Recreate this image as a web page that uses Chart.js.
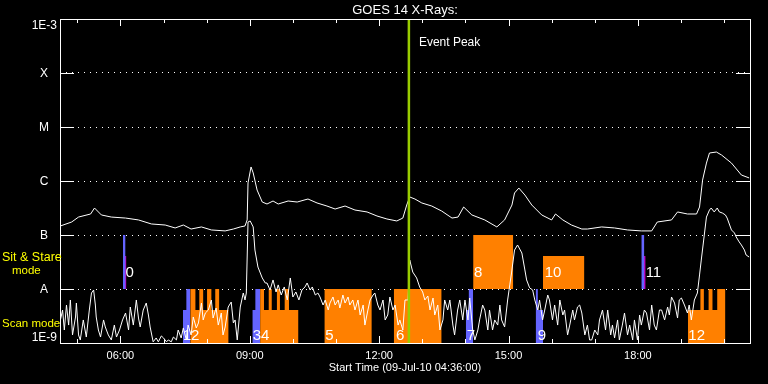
<!DOCTYPE html>
<html>
<head>
<meta charset="utf-8">
<script src="https://cdn.jsdelivr.net/npm/chart.js@4.4.1/dist/chart.umd.min.js"></script>
<style>
  html, body { margin: 0; padding: 0; background: #000; }
  canvas { display: block; }
</style>
</head>
<body>
<canvas id="goesChart" width="768" height="384"></canvas>
<script>
// time in decimal hours of 09-Jul-2010, plot starts at 04:36
const startHour = 4.6;
const endHour = 20.6;
const hourTicks = [6, 9, 12, 15, 18];
const decades = [1e-9, 1e-8, 1e-7, 1e-6, 1e-5, 1e-4, 1e-3];
const decadeLabels = ['1E-9', 'A', 'B', 'C', 'M', 'X', '1E-3'];

// GOES 14 long channel (1-8 A), [hour, W/m^2]
const longChannel = [
  [4.61,1.47e-7],[4.87,1.74e-7],[5.03,2.15e-7],[5.31,2.45e-7],[5.40,3.16e-7],[5.56,2.35e-7],
  [5.79,2.15e-7],[6.12,2.06e-7],[6.42,1.90e-7],[6.72,1.60e-7],[7.04,1.53e-7],[7.27,1.35e-7],
  [7.46,1.53e-7],[7.64,1.29e-7],[7.88,1.41e-7],[8.11,1.24e-7],[8.43,1.19e-7],[8.62,1.29e-7],
  [8.78,1.41e-7],[8.89,1.47e-7],[8.94,1.90e-7],[8.96,9.2e-7],[9.03,1.82e-6],[9.08,1.41e-6],
  [9.17,6.8e-7],[9.29,4.08e-7],[9.40,3.75e-7],[9.54,4.26e-7],[9.66,3.75e-7],[9.89,4.26e-7],
  [10.10,4.08e-7],[10.35,4.64e-7],[10.56,3.92e-7],[10.79,3.44e-7],[10.98,3.03e-7],[11.21,3.44e-7],
  [11.44,2.90e-7],[11.72,2.67e-7],[11.95,2.25e-7],[12.18,1.98e-7],[12.41,1.82e-7],[12.55,2.06e-7],
  [12.64,3.59e-7],[12.71,5.06e-7],[12.83,4.64e-7],[12.99,3.92e-7],[13.22,3.44e-7],[13.45,2.78e-7],
  [13.69,2.06e-7],[13.83,2.15e-7],[13.96,3.30e-7],[14.15,2.35e-7],[14.45,1.90e-7],[14.73,1.41e-7],
  [14.91,1.90e-7],[15.08,3.59e-7],[15.14,6.0e-7],[15.24,7.4e-7],[15.38,5.5e-7],[15.54,3.59e-7],
  [15.77,2.35e-7],[16.00,1.90e-7],[16.09,2.45e-7],[16.26,1.90e-7],[16.46,1.53e-7],[16.70,1.29e-7],
  [16.83,1.29e-7],[17.16,1.41e-7],[17.46,1.35e-7],[17.76,1.24e-7],[18.08,1.19e-7],[18.32,1.19e-7],
  [18.45,1.74e-7],[18.78,1.90e-7],[18.92,2.67e-7],[19.15,2.45e-7],[19.36,2.45e-7],[19.43,3.30e-7],
  [19.50,1.04e-6],[19.59,2.15e-6],[19.66,3.30e-6],[19.82,3.44e-6],[19.94,3.03e-6],[20.17,2.15e-6],
  [20.40,1.29e-6],[20.58,1.14e-6]
];

// GOES 14 short channel (0.5-4 A)
const shortChannel = [
  [4.61,2.67e-9],[4.66,4.08e-9],[4.70,1.74e-9],[4.75,5.05e-9],[4.80,2.15e-9],[4.84,6.26e-9],
  [4.89,1.41e-9],[4.96,3.03e-9],[4.98,5.50e-9],[5.03,1.41e-9],[5.07,1.14e-9],[5.14,2.67e-9],
  [5.21,1.29e-9],[5.28,4.08e-9],[5.33,8.43e-9],[5.38,9.58e-9],[5.42,5.05e-9],[5.44,3.03e-9],
  [5.49,1.74e-9],[5.54,1.29e-9],[5.61,2.67e-9],[5.65,1.98e-9],[5.72,1.41e-9],[5.79,1.14e-9],
  [5.86,2.15e-9],[5.91,1.29e-9],[5.98,1.74e-9],[6.05,2.67e-9],[6.12,3.59e-9],[6.19,1.74e-9],
  [6.23,4.64e-9],[6.30,2.15e-9],[6.37,6.26e-9],[6.42,2.90e-9],[6.46,1.98e-9],[6.53,4.08e-9],
  [6.60,5.50e-9],[6.65,3.30e-9],[6.69,1.98e-9],[6.76,1.05e-9],[6.83,1.24e-9],[6.88,1.05e-9],
  [6.95,1.35e-9],[7.00,1.24e-9],[7.07,1.05e-9],[7.11,1.14e-9],[7.18,1.05e-9],[7.23,1.29e-9],
  [7.30,1.14e-9],[7.34,1.74e-9],[7.41,1.24e-9],[7.46,1.90e-9],[7.53,1.14e-9],[7.57,2.15e-9],
  [7.64,1.41e-9],[7.69,3.03e-9],[7.76,1.90e-9],[7.81,2.35e-9],[7.88,5.50e-9],[7.92,2.67e-9],
  [7.97,3.59e-9],[8.04,4.08e-9],[8.11,6.26e-9],[8.15,2.90e-9],[8.22,4.45e-9],[8.27,2.15e-9],
  [8.34,3.59e-9],[8.38,1.41e-9],[8.43,1.98e-9],[8.50,4.64e-9],[8.57,5.74e-9],[8.62,2.35e-9],
  [8.66,2.67e-9],[8.71,1.14e-9],[8.78,4.64e-9],[8.85,8.43e-9],[8.89,6.26e-9],[8.92,8.43e-9],
  [8.96,1.74e-7],[9.01,1.82e-7],[9.08,1.41e-7],[9.12,5.27e-8],[9.19,2.55e-8],[9.29,1.60e-8],
  [9.36,1.29e-8],[9.40,1.29e-8],[9.47,9.58e-9],[9.54,1.47e-8],[9.61,8.80e-9],[9.66,1.19e-8],
  [9.73,7.74e-9],[9.80,1.09e-8],[9.87,6.26e-9],[9.94,1.60e-8],[10.00,7.11e-9],[10.07,8.80e-9],
  [10.14,6.26e-9],[10.21,9.58e-9],[10.28,1.09e-8],[10.33,1.29e-8],[10.40,9.58e-9],[10.45,1.09e-8],
  [10.52,7.74e-9],[10.58,8.43e-9],[10.63,7.11e-9],[10.70,5.05e-9],[10.75,6.26e-9],[10.82,4.08e-9],
  [10.86,5.50e-9],[10.93,7.11e-9],[10.98,5.05e-9],[11.05,6.26e-9],[11.09,4.45e-9],[11.16,7.74e-9],
  [11.21,5.50e-9],[11.28,7.11e-9],[11.32,5.05e-9],[11.39,6.26e-9],[11.44,4.08e-9],[11.51,6.26e-9],
  [11.56,3.30e-9],[11.63,5.05e-9],[11.67,2.15e-9],[11.74,4.08e-9],[11.79,6.26e-9],[11.86,7.74e-9],
  [11.90,8.43e-9],[11.97,5.05e-9],[12.02,4.08e-9],[12.09,6.26e-9],[12.14,2.67e-9],[12.20,3.30e-9],
  [12.25,7.11e-9],[12.32,4.08e-9],[12.37,5.05e-9],[12.44,2.15e-9],[12.48,2.67e-9],[12.55,1.74e-9],
  [12.60,6.26e-9],[12.67,6.26e-9],[12.71,3.44e-8],[12.78,2.06e-8],[12.87,1.60e-8],[12.94,1.09e-8],
  [13.01,8.80e-9],[13.06,6.26e-9],[13.13,7.42e-9],[13.18,4.08e-9],[13.25,6.81e-9],[13.29,3.30e-9],
  [13.36,5.05e-9],[13.41,1.74e-9],[13.48,2.67e-9],[13.52,6.26e-9],[13.59,4.08e-9],[13.64,6.26e-9],
  [13.71,2.15e-9],[13.75,1.41e-9],[13.82,4.08e-9],[13.87,6.26e-9],[13.94,2.67e-9],[13.99,6.26e-9],
  [14.06,2.67e-9],[14.10,6.81e-9],[14.17,1.74e-9],[14.22,1.14e-9],[14.29,1.74e-9],[14.33,2.67e-9],
  [14.40,5.05e-9],[14.45,4.08e-9],[14.52,1.74e-9],[14.56,4.08e-9],[14.63,1.74e-9],[14.68,2.67e-9],
  [14.75,2.15e-9],[14.80,5.05e-9],[14.84,2.67e-9],[14.91,1.98e-9],[14.98,6.26e-9],[15.03,1.19e-8],
  [15.07,1.98e-8],[15.14,5.27e-8],[15.21,6.53e-8],[15.31,4.64e-8],[15.38,2.25e-8],[15.42,1.47e-8],
  [15.49,1.05e-8],[15.56,9.58e-9],[15.61,6.26e-9],[15.68,4.08e-9],[15.72,6.26e-9],[15.79,2.67e-9],
  [15.84,4.08e-9],[15.91,7.74e-9],[15.95,6.26e-9],[16.02,2.67e-9],[16.07,5.05e-9],[16.14,2.15e-9],
  [16.19,6.26e-9],[16.26,3.30e-9],[16.30,4.08e-9],[16.37,1.41e-9],[16.42,2.15e-9],[16.49,4.08e-9],
  [16.53,2.67e-9],[16.60,4.64e-9],[16.65,5.05e-9],[16.70,3.59e-9],[16.77,1.41e-9],[16.83,2.15e-9],
  [16.88,1.14e-9],[16.93,1.14e-9],[17.00,1.74e-9],[17.07,1.41e-9],[17.11,2.67e-9],[17.18,4.08e-9],
  [17.25,1.74e-9],[17.30,4.08e-9],[17.37,1.41e-9],[17.41,2.15e-9],[17.46,1.24e-9],[17.53,2.67e-9],
  [17.57,1.14e-9],[17.64,2.15e-9],[17.69,3.59e-9],[17.76,1.41e-9],[17.81,2.15e-9],[17.88,1.14e-9],
  [17.92,2.67e-9],[17.99,1.14e-9],[18.04,3.30e-9],[18.08,2.15e-9],[18.15,4.08e-9],[18.20,3.59e-9],
  [18.27,1.74e-9],[18.32,5.05e-9],[18.38,2.15e-9],[18.43,1.74e-9],[18.50,4.08e-9],[18.55,4.08e-9],
  [18.62,2.67e-9],[18.69,4.64e-9],[18.73,3.30e-9],[18.78,7.11e-9],[18.85,5.50e-9],[18.92,2.90e-9],
  [18.96,6.26e-9],[19.01,6.81e-9],[19.08,5.05e-9],[19.15,3.59e-9],[19.19,5.05e-9],[19.24,2.67e-9],
  [19.31,6.26e-9],[19.38,8.43e-9],[19.43,1.82e-8],[19.47,3.44e-8],[19.54,1.00e-7],[19.59,2.15e-7],
  [19.66,2.90e-7],[19.70,3.16e-7],[19.77,2.67e-7],[19.84,3.16e-7],[19.89,2.67e-7],[19.96,2.55e-7],
  [20.03,2.35e-7],[20.07,2.06e-7],[20.17,1.24e-7],[20.24,1.09e-7],[20.28,9.18e-8],[20.35,7.42e-8],
  [20.40,6.53e-8],[20.47,5.27e-8],[20.51,4.26e-8],[20.58,3.91e-8]
];

const eventPeak = 12.69;

// observation blocks: step outlines (start hour of each step, level), last point closes the block
// scan mode blocks are filled down to 1E-9, sit & stare blocks down to A (1E-8)
const scanBlueTimes = [
  [7.45, 7.53, 7.57, 7.62],
  [9.06, 9.13, 9.18, 9.24],
  [14.01, 14.08, 14.11, 14.18],
  [15.63, 15.68, 15.74, 15.80]
];
const scanBlueLevels = [
  [1e-8, 4.1e-9, 1e-8, 1e-8],
  [1e-8, 4.1e-9, 1e-8, 1e-8],
  [1e-8, 4.1e-9, 1e-8, 1e-8],
  [4.1e-9, 1e-8, 4.1e-9, 4.1e-9]
];
const scanOrangeTimes = [
  [7.62, 7.74, 7.83, 7.92, 8.01, 8.11, 8.20, 8.29, 8.39, 8.51],
  [9.24, 9.33, 9.44, 9.51, 9.63, 9.70, 9.81, 9.91, 10.01, 10.13],
  [10.73, 11.83],
  [12.34, 13.45],
  [19.16, 19.45, 19.53, 19.64, 19.73, 19.84, 19.93, 20.03]
];
const scanOrangeLevels = [
  [4.1e-9, 1e-8, 4.1e-9, 1e-8, 4.1e-9, 1e-8, 4.1e-9, 1e-8, 4.1e-9, 4.1e-9],
  [4.1e-9, 1e-8, 4.1e-9, 1e-8, 4.1e-9, 1e-8, 4.1e-9, 1e-8, 4.1e-9, 4.1e-9],
  [1e-8, 1e-8],
  [1e-8, 1e-8],
  [1e-8, 4.1e-9, 1e-8, 4.1e-9, 1e-8, 4.1e-9, 1e-8, 1e-8]
];
const stareOrangeTimes = [[14.18, 15.11], [15.80, 16.76]];
const stareOrangeLevels = [[1e-7, 1e-7], [4.1e-8, 4.1e-8]];
const stareBlueTimes = [[6.06, 6.12], [18.08, 18.15]];
const stareBlueLevels = [[1e-7, 1e-7], [1e-7, 1e-7]];
const starePurpleTimes = [[6.08, 6.14], [18.13, 18.18]];
const starePurpleLevels = [[4.1e-8, 4.1e-8], [4.1e-8, 4.1e-8]];

// block numbers
const eventNames = ['0', '1', '2', '3', '4', '5', '6', '7', '8', '9', '10', '11', '12'];
const eventLabelTimes = [6.12, 7.45, 7.64, 9.07, 9.26, 10.75, 12.39, 14.03, 14.20, 15.68, 15.84, 18.18, 19.17];
const eventLabelFlux = [1.67e-8, 1.14e-9, 1.14e-9, 1.14e-9, 1.14e-9, 1.14e-9, 1.14e-9, 1.14e-9,
                        1.67e-8, 1.14e-9, 1.67e-8, 1.67e-8, 1.14e-9];

const ORANGE = '#ff8000';
const BLUE = '#6464ff';
const PURPLE = '#c000c0';
const FONT = 'Liberation Sans';

function blockSet(times, levels, color, base) {
  return times.map((t, i) => ({
    data: t.map((h, j) => ({x: h, y: levels[i][j]})),
    stepped: 'after',
    fill: base === null ? 'start' : {value: base},
    backgroundColor: color,
    borderColor: 'rgba(0,0,0,0)',
    borderWidth: 0,
    pointRadius: 0,
    order: 2
  }));
}

const curve = (pts) => ({
  data: pts.map(p => ({x: p[0], y: p[1]})),
  borderColor: '#ffffff',
  borderWidth: 1,
  pointRadius: 0,
  tension: 0,
  fill: false,
  order: 0
});

const datasets = [
  curve(longChannel),
  curve(shortChannel),
  {
    data: [{x: eventPeak, y: 1e-9}, {x: eventPeak, y: 1e-3}],
    borderColor: '#99cc00',
    borderWidth: 2.5,
    pointRadius: 0,
    fill: false,
    order: -1
  },
  ...blockSet(scanBlueTimes, scanBlueLevels, BLUE, null),
  ...blockSet(scanOrangeTimes, scanOrangeLevels, ORANGE, null),
  ...blockSet(stareOrangeTimes, stareOrangeLevels, ORANGE, 1e-8),
  ...blockSet(stareBlueTimes, stareBlueLevels, BLUE, 1e-8),
  ...blockSet(starePurpleTimes, starePurpleLevels, PURPLE, 1e-8)
];

let numbersDrawn = false;

const goesDecor = {
  id: 'goesDecor',
  beforeDatasetsDraw() { numbersDrawn = false; },
  beforeDatasetDraw(chart, args) {
    // block numbers go above the blocks but under the flux curves
    if (numbersDrawn || chart.data.datasets[args.index].order !== 0) return;
    numbersDrawn = true;
    const {ctx, scales: {x, y}} = chart;
    ctx.save();
    ctx.fillStyle = '#fff';
    ctx.font = '15px "' + FONT + '"';
    ctx.textAlign = 'left';
    ctx.textBaseline = 'alphabetic';
    eventNames.forEach((n, i) => {
      ctx.fillText(n, x.getPixelForValue(eventLabelTimes[i]), y.getPixelForValue(eventLabelFlux[i]));
    });
    ctx.restore();
  },
  afterDraw(chart) {
    const {ctx, chartArea: a, scales: {x, y}} = chart;
    ctx.save();
    ctx.strokeStyle = '#fff';
    ctx.lineWidth = 1;
    ctx.strokeRect(a.left + 0.5, a.top + 0.5, a.right - a.left, a.bottom - a.top);
    ctx.beginPath();
    decades.slice(1, -1).forEach(v => {
      const py = Math.round(y.getPixelForValue(v)) + 0.5;
      ctx.moveTo(a.left, py); ctx.lineTo(a.left + 14, py);
      ctx.moveTo(a.right - 14, py); ctx.lineTo(a.right, py);
    });
    for (let h = Math.ceil(startHour); h <= endHour; h++) {
      const px = Math.round(x.getPixelForValue(h)) + 0.5;
      const len = hourTicks.includes(h) ? 7 : 4;
      ctx.moveTo(px, a.top); ctx.lineTo(px, a.top + len);
      ctx.moveTo(px, a.bottom); ctx.lineTo(px, a.bottom - len);
    }
    ctx.stroke();

    // y labels
    ctx.fillStyle = '#fff';
    ctx.font = '12px "' + FONT + '"';
    decades.forEach((v, i) => {
      const py = y.getPixelForValue(v);
      if (i === 0) {
        ctx.textAlign = 'right'; ctx.textBaseline = 'bottom';
        ctx.fillText(decadeLabels[i], a.left - 3, py + 1);
      } else if (i === decades.length - 1) {
        ctx.textAlign = 'right'; ctx.textBaseline = 'top';
        ctx.fillText(decadeLabels[i], a.left - 3, py + 1);
      } else {
        ctx.textAlign = 'center'; ctx.textBaseline = 'middle';
        ctx.fillText(decadeLabels[i], a.left - 16, py + 1);
      }
    });

    // title
    ctx.font = '13px "' + FONT + '"';
    ctx.textAlign = 'center';
    ctx.textBaseline = 'middle';
    ctx.fillText('GOES 14 X-Rays:', (a.left + a.right) / 2, a.top - 9);

    ctx.font = '12px "' + FONT + '"';
    ctx.textAlign = 'left';
    ctx.fillText('Event Peak', x.getPixelForValue(eventPeak) + 10, a.top + 24);

    // mode captions
    ctx.fillStyle = '#ffff00';
    ctx.font = '12.5px "' + FONT + '"';
    ctx.fillText('Sit & Stare', 2, a.top + 239);
    ctx.font = '11.5px "' + FONT + '"';
    ctx.fillText('mode', 12, a.top + 252);
    ctx.fillText('Scan mode', 2, a.top + 305);
    ctx.restore();
  }
};

new Chart(document.getElementById('goesChart'), {
  type: 'line',
  data: {datasets},
  options: {
    responsive: false,
    animation: false,
    devicePixelRatio: 1,
    layout: {padding: {top: 19, right: 18, left: 0, bottom: 0}},
    plugins: {legend: {display: false}, tooltip: {enabled: false}},
    scales: {
      x: {
        type: 'linear',
        min: startHour,
        max: endHour,
        afterBuildTicks: (s) => { s.ticks = hourTicks.map(v => ({value: v})); },
        afterFit: (s) => { s.height = 41; },
        grid: {display: false, drawTicks: false},
        border: {display: false},
        ticks: {
          color: '#fff',
          padding: 6,
          maxRotation: 0,
          font: {family: FONT, size: 11},
          callback: (v) => String(v).padStart(2, '0') + ':00'
        },
        title: {
          display: true,
          text: 'Start Time (09-Jul-10 04:36:00)',
          color: '#fff',
          font: {family: FONT, size: 11},
          padding: {top: 0, bottom: 9}
        }
      },
      y: {
        type: 'logarithmic',
        min: 1e-9,
        max: 1e-3,
        afterBuildTicks: (s) => { s.ticks = decades.map(v => ({value: v})); },
        afterFit: (s) => { s.width = 60; },
        grid: {color: '#ffffff', lineWidth: 1, drawTicks: false},
        border: {display: false, dash: [1, 5]},
        ticks: {display: false}
      }
    }
  },
  plugins: [goesDecor]
});
</script>
</body>
</html>
